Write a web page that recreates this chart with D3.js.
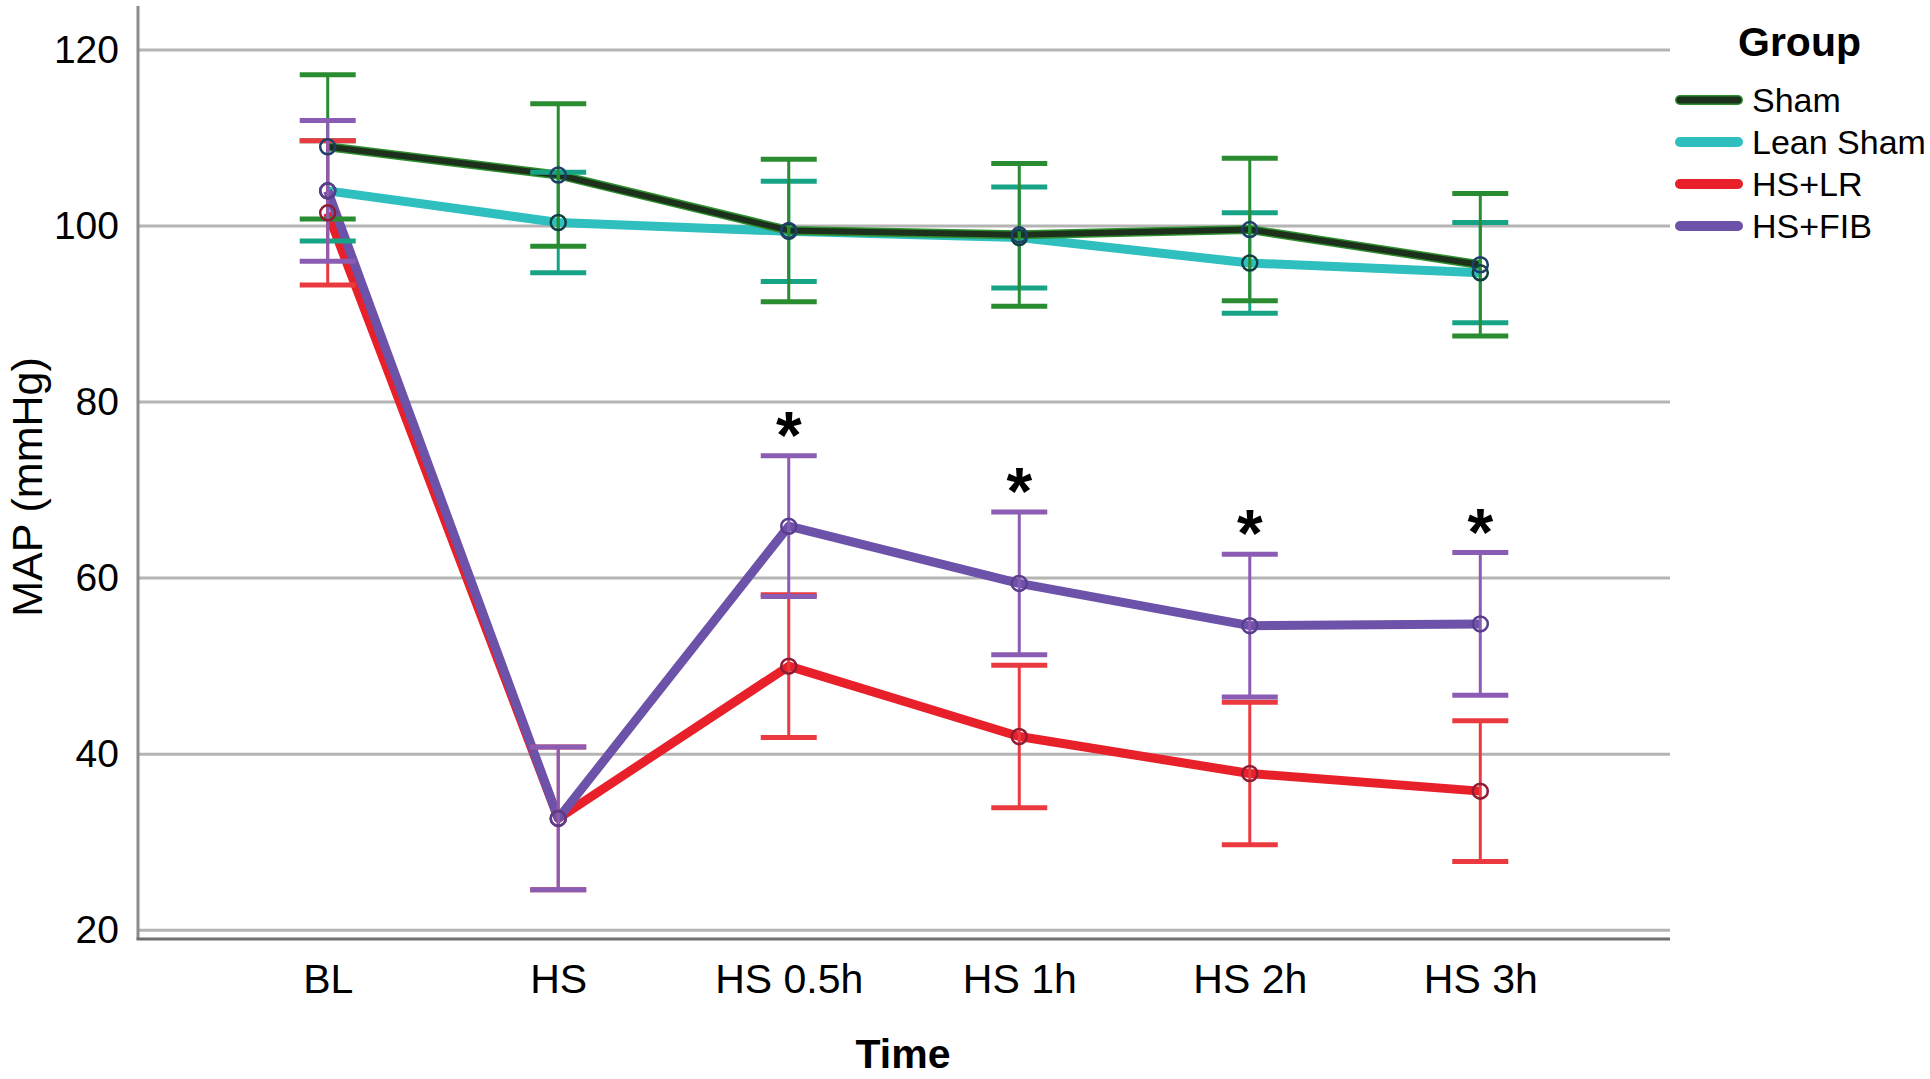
<!DOCTYPE html>
<html>
<head>
<meta charset="utf-8">
<script src="https://cdn.jsdelivr.net/npm/d3@7/dist/d3.min.js"></script>
<style>
  html, body { margin: 0; padding: 0; background: #ffffff; }
  svg { display: block; }
</style>
</head>
<body>
<script>
// ---------------- data ----------------
const categories = ["BL", "HS", "HS 0.5h", "HS 1h", "HS 2h", "HS 3h"];
const groups = ["Sham", "Lean Sham", "HS+LR", "HS+FIB"];
const shamMean = [109.0, 105.8, 99.5, 99.0, 99.6, 95.6];
const shamErr  = [8.2, 8.1, 8.1, 8.1, 8.1, 8.1];
const leanMean = [104.0, 100.4, 99.4, 98.7, 95.8, 94.7];
const leanErr  = [5.7, 5.7, 5.7, 5.75, 5.7, 5.7];
const lrMean   = [101.5, 32.7, 50.0, 42.0, 37.8, 35.8];
const lrErr    = [8.2, 8.1, 8.1, 8.1, 8.1, 8.0];
const fibMean  = [104.0, 32.7, 65.9, 59.4, 54.6, 54.8];
const fibErr   = [8.0, 8.1, 8.0, 8.1, 8.1, 8.1];
const yTicks   = [20, 40, 60, 80, 100, 120];
const starCats = ["HS 0.5h", "HS 1h", "HS 2h", "HS 3h"];

// ---------------- setup ----------------
const W = 1930, H = 1079;
const svg = d3.select("body").append("svg").attr("width", W).attr("height", H)
  .style("font-family", "'Liberation Sans', Arial, sans-serif");

const x = d3.scalePoint().domain(categories).range([138, 1670]).padding(0.823);
const y = d3.scaleLinear().domain([19, 125]).range([939, 6]);

const series = [
  { name: "Lean Sham", mean: leanMean, err: leanErr, line: "#2fbfbf", lw: 9, under: null, bar: "#17a486", marker: "#0f3f3f" },
  { name: "Sham",      mean: shamMean, err: shamErr, line: "#1c301c", lw: 6, under: "#2f8f2f", bar: "#2a8c30", marker: "#1d3f6a" },
  { name: "HS+LR",     mean: lrMean,   err: lrErr,   line: "#e8202a", lw: 9, under: null, bar: "#ea3a40", marker: "#8e1c34" },
  { name: "HS+FIB",    mean: fibMean,  err: fibErr,  line: "#6c52a8", lw: 9, under: null, bar: "#8a5cb3", marker: "#5a3d8c" }
];
const legendColor = { "Sham": "#1c301c", "Lean Sham": "#2fbfbf", "HS+LR": "#e8202a", "HS+FIB": "#6c52a8" };
const legendEdge = { "Sham": "#2f8f2f", "Lean Sham": "#2fbfbf", "HS+LR": "#e8202a", "HS+FIB": "#6c52a8" };

// gridlines
svg.append("g").selectAll("line").data(yTicks).join("line")
  .attr("x1", x.range()[0]).attr("x2", x.range()[1])
  .attr("y1", d => y(d)).attr("y2", d => y(d))
  .attr("stroke", "#b4b4b4").attr("stroke-width", 3);

// axes lines
svg.append("line").attr("x1", x.range()[0]).attr("x2", x.range()[0])
  .attr("y1", y.range()[1]).attr("y2", y.range()[0])
  .attr("stroke", "#8c8c8c").attr("stroke-width", 3);
svg.append("line").attr("x1", x.range()[0] - 1.5).attr("x2", x.range()[1])
  .attr("y1", y.range()[0]).attr("y2", y.range()[0])
  .attr("stroke", "#707070").attr("stroke-width", 3);

// y axis labels
const yAxis = svg.append("g").attr("transform", `translate(${x.range()[0]},0)`)
  .call(d3.axisLeft(y).tickValues(yTicks).tickSize(0).tickPadding(19));
yAxis.select(".domain").remove();
yAxis.selectAll("text").style("font-size", "39px").attr("fill", "#000")
  .style("font-family", "'Liberation Sans', Arial, sans-serif");

// x axis labels
const xAxis = svg.append("g").attr("transform", `translate(0,${y.range()[0]})`)
  .call(d3.axisBottom(x).tickSize(0).tickPadding(25));
xAxis.select(".domain").remove();
xAxis.selectAll("text").style("font-size", "41px").attr("fill", "#000")
  .style("font-family", "'Liberation Sans', Arial, sans-serif");

// axis titles
svg.append("text").attr("transform", "translate(42,487) rotate(-90)")
  .attr("text-anchor", "middle").style("font-size", "43px").attr("fill", "#000")
  .text("MAP (mmHg)");
svg.append("text").attr("x", 903).attr("y", 1068).attr("text-anchor", "middle")
  .style("font-size", "41px").style("font-weight", "bold").attr("fill", "#000")
  .text("Time");

// lines
const lineGen = d3.line().x((d, i) => x(categories[i])).y(d => y(d));
series.forEach(s => {
  if (s.under) {
    svg.append("path").attr("d", lineGen(s.mean)).attr("fill", "none")
      .attr("stroke", s.under).attr("stroke-width", s.lw + 3).attr("stroke-linejoin", "round");
  }
  svg.append("path").attr("d", lineGen(s.mean)).attr("fill", "none")
    .attr("stroke", s.line).attr("stroke-width", s.lw).attr("stroke-linejoin", "round");
});

// error bars
const capHalf = 28;
series.forEach(s => {
  const g = svg.append("g").attr("stroke", s.bar).attr("stroke-width", 3).attr("fill", "none");
  categories.forEach((c, i) => {
    const cx = x(c), lo = y(s.mean[i] - s.err[i]), hi = y(s.mean[i] + s.err[i]);
    g.append("line").attr("x1", cx).attr("x2", cx).attr("y1", lo).attr("y2", hi);
    g.append("line").attr("x1", cx - capHalf).attr("x2", cx + capHalf).attr("y1", lo).attr("y2", lo).attr("stroke-width", 5);
    g.append("line").attr("x1", cx - capHalf).attr("x2", cx + capHalf).attr("y1", hi).attr("y2", hi).attr("stroke-width", 5);
  });
});

// markers
series.forEach(s => {
  svg.append("g").selectAll("circle").data(s.mean).join("circle")
    .attr("cx", (d, i) => x(categories[i])).attr("cy", d => y(d)).attr("r", 7.5)
    .attr("fill", "none").attr("stroke", s.marker).attr("stroke-width", 2.5);
});

// significance stars
svg.append("g").selectAll("text").data(starCats).join("text")
  .attr("x", d => x(d))
  .attr("y", d => { const i = categories.indexOf(d); return y(fibMean[i] + fibErr[i]) + 2; })
  .attr("text-anchor", "middle").style("font-size", "66px").style("font-weight", "bold")
  .attr("fill", "#000").text("*");

// legend
const lg = svg.append("g");
lg.append("text").attr("x", 1738).attr("y", 56).style("font-size", "41px")
  .style("font-weight", "bold").attr("fill", "#000").text("Group");
groups.forEach((gname, i) => {
  const yy = 100 + i * 42;
  lg.append("line").attr("x1", 1680).attr("x2", 1738).attr("y1", yy).attr("y2", yy)
    .attr("stroke", legendEdge[gname]).attr("stroke-width", 10).attr("stroke-linecap", "round");
  lg.append("line").attr("x1", 1680).attr("x2", 1738).attr("y1", yy).attr("y2", yy)
    .attr("stroke", legendColor[gname]).attr("stroke-width", 7).attr("stroke-linecap", "round");
  lg.append("text").attr("x", 1752).attr("y", yy + 12).style("font-size", "34px")
    .attr("fill", "#000").text(gname);
});
</script>
</body>
</html>
